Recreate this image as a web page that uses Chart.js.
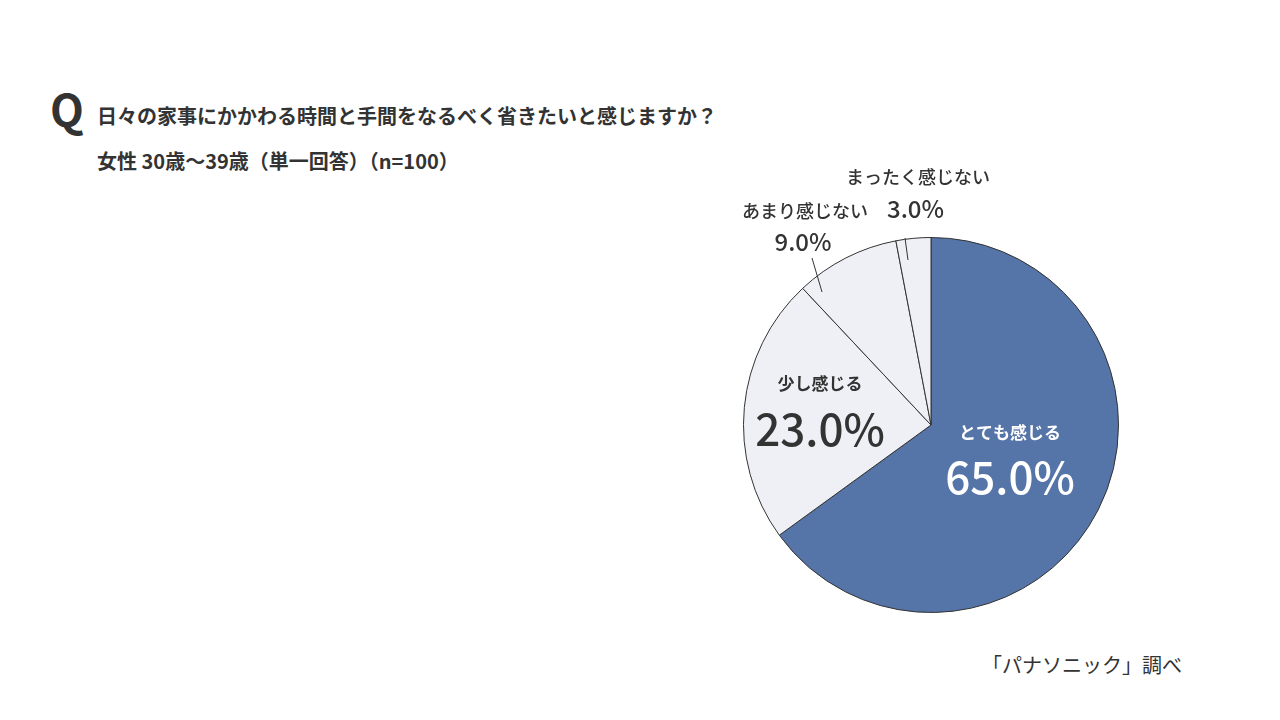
<!DOCTYPE html>
<html><head><meta charset="utf-8">
<script src="https://cdn.jsdelivr.net/npm/chart.js@4/dist/chart.umd.min.js"></script>
<style>
html,body{margin:0;padding:0;background:#fff;width:1280px;height:720px;overflow:hidden;font-family:"Noto Sans CJK JP","Noto Sans",sans-serif;color:#333}
#wrap{position:absolute;left:0;top:0;width:1280px;height:720px}
.t{position:absolute;white-space:nowrap;font-weight:bold}
</style></head><body>
<div class="t" style="left:50px;top:80px;font-size:44px;line-height:56px">Q</div>
<div class="t" style="left:97px;top:101px;font-size:20px">日々の家事にかかわる時間と手間をなるべく省きたいと感じますか？</div>
<div class="t" style="left:97px;top:146px;font-size:20px">女性 30歳〜39歳（単一回答）（n=100）</div>
<div class="t" style="left:982px;top:650px;font-size:20px;font-weight:normal">「パナソニック」調べ</div>
<div id="wrap"><canvas id="c" width="1280" height="720"></canvas></div>
<script>
const categories=["とても感じる","少し感じる","あまり感じない","まったく感じない"];
const values=[65.0,23.0,9.0,3.0];
const colors=["#5574a8","#eef0f5","#eef0f5","#eef0f5"];
const labelPlugin={id:"lbl",afterDraw(ch){
 const c=ch.ctx,arcs=ch.getDatasetMeta(0).data;const cx=arcs[0].x,cy=arcs[0].y;
 const F='"Noto Sans CJK JP","Noto Sans",sans-serif';
 c.save();c.textAlign="center";c.textBaseline="middle";
 const t=(s,x,y,sz,col,w)=>{c.font=(w||"bold")+" "+sz+"px "+F;c.fillStyle=col;c.fillText(s,x,y);};
 const pct=v=>v.toFixed(1)+"%";
 t(categories[0],cx+79,cy+8,17,"#fff");t(pct(values[0]),cx+79,cy+52,44,"#fff","500");
 t(categories[1],cx-111,cy-41,17,"#333");t(pct(values[1]),cx-111,cy+4,44,"#333","500");
 c.strokeStyle="#333";c.lineWidth=1;
 c.beginPath();c.moveTo(cx-109,cy-133);c.lineTo(cx-119,cy-167);c.stroke();
 c.beginPath();c.moveTo(cx-23,cy-165);c.lineTo(cx-26,cy-187);c.stroke();
 t(categories[2],cx-126,cy-214,18,"#333","500");t(pct(values[2]),cx-128,cy-183,24,"#333","500");
 t(categories[3],cx-13,cy-248,18,"#333","500");
 c.textAlign="left";t(pct(values[3]),cx-44,cy-216,24,"#333","500");
 c.restore();}};
new Chart(document.getElementById("c"),{type:"pie",
 data:{labels:categories,datasets:[{data:values,backgroundColor:colors,borderColor:"#333",borderWidth:1}]},
 options:{responsive:false,animation:false,layout:{padding:{left:743,right:161,top:237,bottom:107}},
  plugins:{legend:{display:false},tooltip:{enabled:false}}},
 plugins:[labelPlugin]});
</script></body></html>
